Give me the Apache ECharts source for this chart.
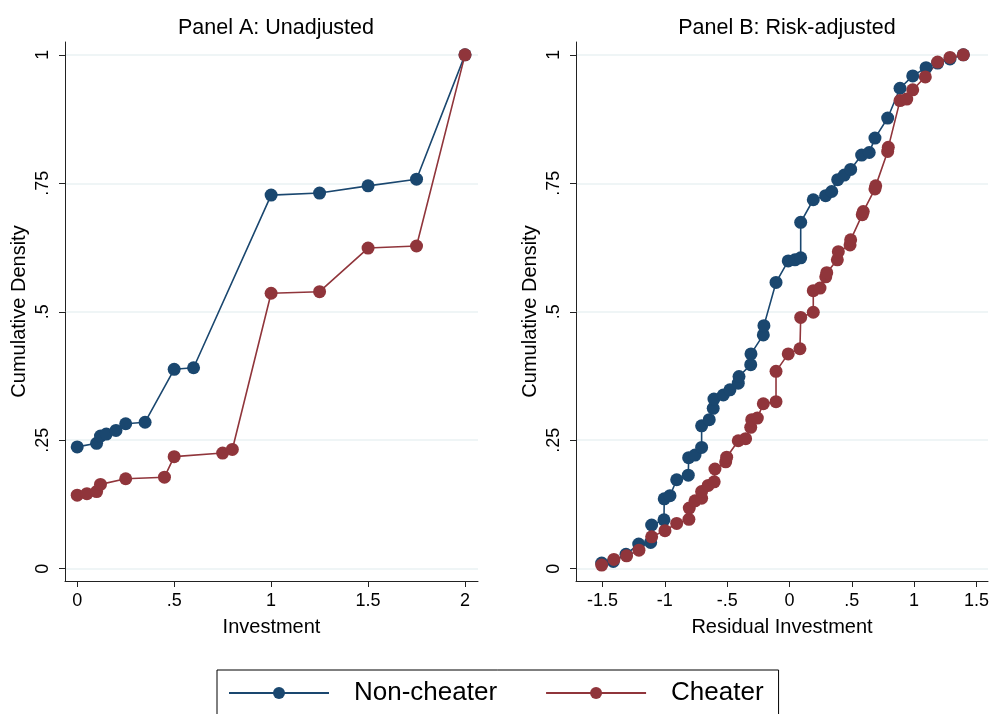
<!DOCTYPE html>
<html>
<head>
<meta charset="utf-8">
<script src="https://cdn.jsdelivr.net/npm/echarts@6/dist/echarts.min.js"></script>
<style>
  html, body { margin: 0; padding: 0; background: #fff; }
  #chart { width: 993px; height: 714px; }
</style>
</head>
<body>
<div id="chart"></div>
<script>
// Panel A: unadjusted investment
var invNonCheaterX = [0, 0.1, 0.12, 0.15, 0.2, 0.25, 0.35, 0.5, 0.6, 1, 1.25, 1.5, 1.75, 2];
var invNonCheaterY = [0.237, 0.244, 0.258, 0.262, 0.269, 0.282, 0.285, 0.388, 0.391, 0.727, 0.731, 0.745, 0.758, 1];
var invCheaterX = [0, 0.05, 0.1, 0.12, 0.25, 0.45, 0.5, 0.75, 0.8, 1, 1.25, 1.5, 1.75, 2];
var invCheaterY = [0.143, 0.146, 0.150, 0.164, 0.175, 0.178, 0.218, 0.225, 0.232, 0.536, 0.539, 0.624, 0.628, 1];

// Panel B: residual investment
var resNonCheaterX = [-1.507, -1.414, -1.312, -1.21, -1.114, -1.106, -1.007, -1.005, -0.959, -0.905,
  -0.812, -0.809, -0.758, -0.705, -0.705, -0.644, -0.612, -0.606, -0.531, -0.478,
  -0.411, -0.405, -0.311, -0.309, -0.21, -0.205, -0.108, -0.01, 0.044, 0.09,
  0.09, 0.191, 0.29, 0.339, 0.387, 0.44, 0.491, 0.579, 0.64, 0.686,
  0.788, 0.887, 0.989, 1.096, 1.189, 1.288, 1.395];
var resNonCheaterY = [0.011, 0.014, 0.028, 0.048, 0.051, 0.085, 0.095, 0.136, 0.142, 0.173,
  0.182, 0.216, 0.221, 0.236, 0.278, 0.290, 0.312, 0.330, 0.338, 0.348,
  0.361, 0.374, 0.397, 0.418, 0.455, 0.473, 0.557, 0.599, 0.601, 0.605,
  0.674, 0.718, 0.726, 0.734, 0.757, 0.766, 0.777, 0.805, 0.810, 0.838,
  0.877, 0.935, 0.959, 0.975, 0.984, 0.992, 1];
var resCheaterX = [-1.507, -1.409, -1.307, -1.208, -1.106, -0.999, -0.905, -0.807, -0.804, -0.758,
  -0.705, -0.705, -0.652, -0.604, -0.598, -0.512, -0.504, -0.411, -0.352, -0.311,
  -0.303, -0.258, -0.21, -0.108, -0.108, -0.01, 0.084, 0.09, 0.191, 0.191,
  0.245, 0.291, 0.299, 0.384, 0.392, 0.486, 0.491, 0.584, 0.592, 0.686,
  0.692, 0.788, 0.793, 0.887, 0.941, 0.989, 1.09, 1.189, 1.288, 1.395];
var resCheaterY = [0.007, 0.018, 0.025, 0.036, 0.062, 0.074, 0.088, 0.096, 0.118, 0.132,
  0.137, 0.150, 0.162, 0.169, 0.194, 0.208, 0.217, 0.249, 0.253, 0.275,
  0.290, 0.293, 0.321, 0.325, 0.384, 0.418, 0.428, 0.489, 0.499, 0.541,
  0.546, 0.568, 0.576, 0.601, 0.617, 0.630, 0.640, 0.689, 0.695, 0.739,
  0.745, 0.812, 0.820, 0.911, 0.914, 0.932, 0.957, 0.986, 0.995, 1];

var yTicks = [0, 0.25, 0.5, 0.75, 1];
var xTicksA = [0, 0.5, 1, 1.5, 2];
var xTicksB = [-1.5, -1, -0.5, 0, 0.5, 1, 1.5];

var navy = '#1a476f';
var maroon = '#90353b';
var font = 'Liberation Sans, Arial, Helvetica, sans-serif';

function pairs(xs, ys) {
  var out = [];
  for (var i = 0; i < xs.length; i++) out.push([xs[i], ys[i]]);
  return out;
}

// Stata style: .5 instead of 0.5
function stataLabel(v) {
  return String(+v.toFixed(4)).replace(/^(-?)0\./, '$1.');
}

function xAxisFor(idx, min, max, ticks, name) {
  return {
    type: 'value', gridIndex: idx, min: min, max: max,
    name: name, nameLocation: 'middle', nameGap: 36,
    nameTextStyle: { fontSize: 20, fontFamily: font, color: '#000' },
    axisLine: { show: true, onZero: false, lineStyle: { color: '#222', width: 1 } },
    axisTick: { show: true, length: 6, customValues: ticks, lineStyle: { color: '#222' } },
    axisLabel: { customValues: ticks, margin: 11, fontSize: 18, fontFamily: font, color: '#000', formatter: stataLabel },
    splitLine: { show: false }
  };
}

function yAxisFor(idx) {
  return {
    type: 'value', gridIndex: idx, min: -0.024, max: 1.025,
    name: 'Cumulative Density', nameLocation: 'middle', nameGap: 36, nameRotate: 90,
    nameTextStyle: { fontSize: 20, fontFamily: font, color: '#000' },
    axisLine: { show: true, onZero: false, lineStyle: { color: '#222', width: 1 } },
    axisTick: { show: true, length: 6, customValues: yTicks, lineStyle: { color: '#222' } },
    axisLabel: { customValues: yTicks, rotate: 90, margin: 13, fontSize: 18, fontFamily: font, color: '#000', formatter: stataLabel },
    splitLine: { show: true, lineStyle: { color: '#eaf2f3', width: 1.5 } }
  };
}

function lineSeries(name, color, xi, data) {
  return {
    name: name, type: 'line', xAxisIndex: xi, yAxisIndex: xi,
    data: data, symbol: 'circle', symbolSize: 13, showAllSymbol: true,
    lineStyle: { color: color, width: 1.6 },
    itemStyle: { color: color },
    emphasis: { disabled: true },
    animation: false
  };
}

var chart = echarts.init(document.getElementById('chart'));
chart.setOption({
  backgroundColor: '#fff',
  animation: false,
  title: [
    { text: 'Panel A: Unadjusted', left: 271, top: 12, textAlign: 'center',
      textStyle: { fontSize: 21.5, fontWeight: 'normal', fontFamily: font, color: '#000' } },
    { text: 'Panel B: Risk-adjusted', left: 782, top: 12, textAlign: 'center',
      textStyle: { fontSize: 21.5, fontWeight: 'normal', fontFamily: font, color: '#000' } }
  ],
  legend: {
    data: ['Non-cheater', 'Cheater'],
    left: 217, top: 670,
    itemWidth: 100, itemHeight: 15, itemGap: 48,
    padding: [10, 15, 10, 11],
    borderColor: '#000', borderWidth: 1,
    textStyle: { fontSize: 26, fontFamily: font, color: '#000', padding: [0, 0, 0, 20] }
  },
  grid: [
    { left: 65, right: 515, top: 42, bottom: 133 },
    { left: 576, right: 5, top: 42, bottom: 133 }
  ],
  xAxis: [
    xAxisFor(0, -0.063, 2.067, xTicksA, 'Investment'),
    xAxisFor(1, -1.713, 1.593, xTicksB, 'Residual Investment')
  ],
  yAxis: [yAxisFor(0), yAxisFor(1)],
  series: [
    lineSeries('Non-cheater', navy, 0, pairs(invNonCheaterX, invNonCheaterY)),
    lineSeries('Cheater', maroon, 0, pairs(invCheaterX, invCheaterY)),
    lineSeries('Non-cheater', navy, 1, pairs(resNonCheaterX, resNonCheaterY)),
    lineSeries('Cheater', maroon, 1, pairs(resCheaterX, resCheaterY))
  ]
});
</script>
</body>
</html>
